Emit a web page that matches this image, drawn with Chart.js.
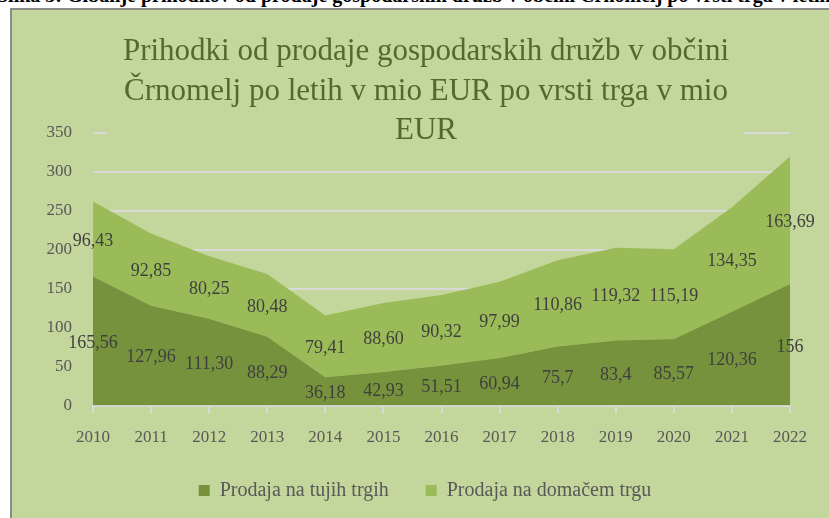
<!DOCTYPE html>
<html>
<head>
<meta charset="utf-8">
<script src="https://cdn.jsdelivr.net/npm/chart.js@4.4.0/dist/chart.umd.min.js"></script>
<style>
body { margin: 0; background: #fff; width: 829px; height: 518px; overflow: hidden; position: relative; }
#cap { position: absolute; left: -3px; top: -16px; font: bold 20px "Liberation Serif"; white-space: nowrap; color: #000; }
#box { position: absolute; left: 10px; top: 8px; width: 830px; height: 520px; border-left: 2px solid #8c8c8c; border-top: 2px solid #8c8c8c; background: #c3d69b; }
canvas { display: block; }
</style>
</head>
<body>
<div id="cap">Slika 3: Gibanje prihodkov od prodaje gospodarskih družb v občini Črnomelj po vrsti trga v letih 2010–2022</div>
<div id="box"><canvas id="myChart" width="817" height="508"></canvas></div>
<script>
const years = ['2010', '2011', '2012', '2013', '2014', '2015', '2016', '2017', '2018', '2019', '2020', '2021', '2022'];
const tujihTrgih = [165.56, 127.96, 111.30, 88.29, 36.18, 42.93, 51.51, 60.94, 75.7, 83.4, 85.57, 120.36, 156];
const domacemTrgu = [96.43, 92.85, 80.25, 80.48, 79.41, 88.60, 90.32, 97.99, 110.86, 119.32, 115.19, 134.35, 163.69];
const tujihLabels = ['165,56', '127,96', '111,30', '88,29', '36,18', '42,93', '51,51', '60,94', '75,7', '83,4', '85,57', '120,36', '156'];
const domacemLabels = ['96,43', '92,85', '80,25', '80,48', '79,41', '88,60', '90,32', '97,99', '110,86', '119,32', '115,19', '134,35', '163,69'];
const titleLines = [
    'Prihodki od prodaje gospodarskih družb v občini',
    'Črnomelj po letih v mio EUR po vrsti trga v mio',
    'EUR'
];

const bg = '#c3d69b';
const font = 'Liberation Serif';

// title sits over the top gridline, so it is drawn with its own background
const titleBox = {
    id: 'titleBox',
    beforeDatasetsDraw(chart) {
        const ctx = chart.ctx;
        ctx.save();
        ctx.fillStyle = bg;
        ctx.fillRect(95, 0, 637, 135);
        ctx.font = '31px "' + font + '"';
        ctx.fillStyle = '#55692c';
        ctx.textAlign = 'center';
        ctx.textBaseline = 'middle';
        titleLines.forEach((t, i) => ctx.fillText(t, 414, 42 + i * 39.5));
        ctx.restore();
    }
};

const valueLabels = {
    id: 'valueLabels',
    afterDatasetsDraw(chart) {
        const ctx = chart.ctx;
        const y = chart.scales.y;
        ctx.save();
        ctx.font = '18px "' + font + '"';
        ctx.fillStyle = '#3f3f3f';
        ctx.textAlign = 'center';
        ctx.textBaseline = 'middle';
        chart.data.datasets.forEach((ds, i) => {
            const meta = chart.getDatasetMeta(i);
            meta.data.forEach((pt, j) => {
                const base = i === 0 ? 0 : tujihTrgih[j];
                ctx.fillText(ds.valueText[j], pt.x, y.getPixelForValue(base + ds.data[j] / 2) + 2);
            });
        });
        ctx.restore();
    }
};

// legend sits a little right of centre in the original
const legendShift = {
    id: 'legendShift',
    afterLayout(chart) {
        chart.legend.left += 24;
        chart.legend.right += 24;
    }
};

const data = {
    labels: years,
    datasets: [{
        label: 'Prodaja na tujih trgih',
        data: tujihTrgih,
        valueText: tujihLabels,
        backgroundColor: '#76923c',
        fill: 'origin'
    }, {
        label: 'Prodaja na domačem trgu',
        data: domacemTrgu,
        valueText: domacemLabels,
        backgroundColor: '#9bbb59',
        fill: '-1'
    }]
};

const options = {
    responsive: false,
    animation: false,
    layout: { padding: { top: 123, right: 39, left: 0, bottom: 7.5 } },
    elements: {
        point: { radius: 0 },
        line: { borderWidth: 0, tension: 0 }
    },
    plugins: {
        tooltip: { enabled: false },
        legend: {
            position: 'bottom',
            labels: {
                boxWidth: 11,
                boxHeight: 11,
                padding: 37,
                color: '#595959',
                font: { family: font, size: 20 }
            }
        }
    },
    scales: {
        x: {
            grid: { drawOnChartArea: false, color: '#d9d9d9', lineWidth: 2, tickLength: 8 },
            border: { color: '#d9d9d9', width: 2 },
            ticks: { color: '#595959', font: { family: font, size: 17 }, padding: 14, maxRotation: 0 },
            afterFit(s) { s.height = 38; }
        },
        y: {
            stacked: true,
            min: 0,
            max: 350,
            ticks: { stepSize: 50, color: '#595959', font: { family: font, size: 17 }, padding: 21 },
            grid: { color: '#d9d9d9', lineWidth: 2, drawTicks: false },
            border: { display: false },
            afterFit(s) { s.width = 81; }
        }
    }
};

var myChart = new Chart(document.getElementById('myChart'), {
    type: 'line',
    data,
    options,
    plugins: [titleBox, valueLabels, legendShift]
});
</script>
</body>
</html>
